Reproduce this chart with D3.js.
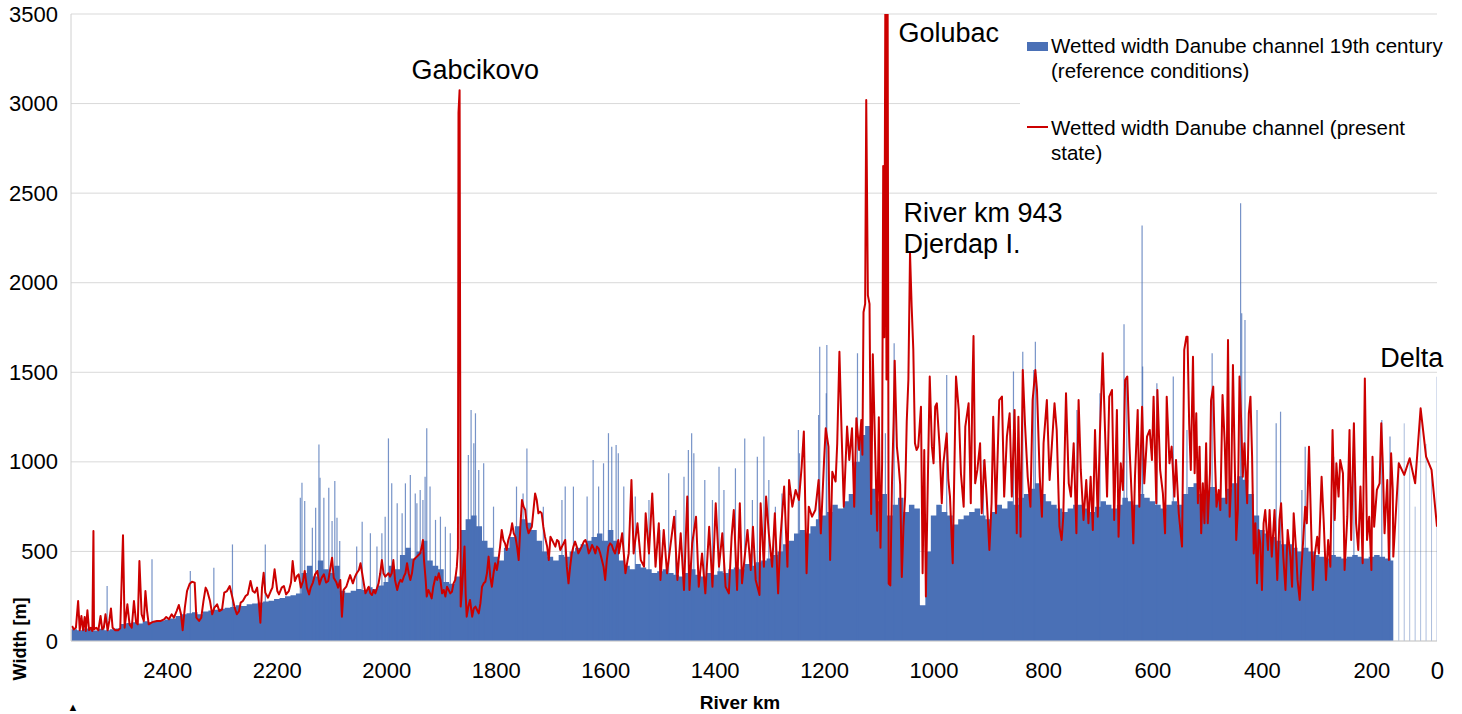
<!DOCTYPE html>
<html>
<head>
<meta charset="utf-8">
<script src="https://cdn.jsdelivr.net/npm/d3@7"></script>
<style>
  body { margin: 0; background: #fff; }
  text { font-family: "Liberation Sans", Arial, sans-serif; fill: #000; }
</style>
</head>
<body>
<div id="chart"></div>
<script>
// ---- data ----

// 19th century wetted width, 10 km bins from km 2570 down to km 160
var blueKm = d3.range(2570, 159, -10);
var blueWidth = [
  65,60,70,62,58,68,60,65,
  70,95,100,105,98,110,105,112,115,120,
  125,140,150,155,160,150,165,170,175,180,
  185,190,200,195,205,210,215,220,225,235,
  240,250,255,265,380,420,360,450,400,380,
  420,280,270,280,290,285,300,290,310,330,
  420,400,480,520,460,500,560,450,420,400,
  330,320,360,620,680,700,640,560,520,470,
  450,520,580,640,680,660,620,560,500,470,
  450,480,470,500,520,540,560,580,600,560,
  620,560,450,420,400,430,410,400,380,390,
  400,380,370,360,380,400,370,360,380,370,
  390,380,400,410,400,430,420,440,450,460,
  480,500,540,560,600,620,600,640,680,700,
  720,760,740,780,820,1000,1150,1200,850,780,
  820,700,760,800,720,760,740,200,500,700,
  760,720,700,650,680,700,720,740,700,680,
  720,760,740,780,760,800,820,850,880,820,
  780,760,740,720,740,760,760,740,720,750,
  780,760,740,760,800,780,760,820,800,780,
  760,740,760,780,760,820,860,880,820,840,
  860,820,800,850,880,920,900,820,700,620,
  600,580,560,540,540,520,500,520,500,480,
  470,460,480,470,460,470,480,470,460,470,
  480,470,460,450
];

// narrow peaks of the 19th century width
var spikeKm = [
  2510,2428,2358,2315,2281,2221,2157,2154,2149,2135,2129,2123,2121,2114,2105,2099,2094,2090,2085,
  2054,2044,2029,2017,2008,2002,1996,1990,1980,1971,1965,1956,1947,1944,1938,1933,1929,1926,1920,1910,1901,1892,1883,
  1850,1845,1840,1837,1831,1822,1804,1762,1750,1743,1713,1679,1673,1658,1633,1622,1612,1603,1594,1588,1580,1576,
  1566,1545,1520,1500,1484,1471,1456,1448,1442,1438,1418,1404,1392,1383,1362,1345,1331,1322,1310,1301,1289,1277,
  1247,1245,1210,1208,1196,1195,1139,1088,1072,1057,
  976,909,854,837,817,814,738,696,652,647,619,618,592,562,537,
  491,439,437,431,409,374,366,327,321,269,232,181,166
];
var spikeWidth = [
  307,456,391,409,539,539,800,884,781,632,744,1097,911,800,856,670,893,688,558,
  527,666,601,527,601,694,1131,880,769,713,880,927,824,769,843,787,917,1187,862,676,694,638,601,
  1038,1290,1104,1271,955,992,750,862,824,1075,750,787,862,862,806,1010,862,992,1160,1085,1094,1048,
  862,806,787,620,936,731,917,1066,1159,1048,899,787,973,843,964,1131,787,1029,1141,899,750,824,
  1178,1048,1262,1643,1383,1653,1606,1159,1662,694,
  1485,1011,1504,1615,1513,1671,1290,1383,1768,1476,2320,1532,1439,1476,1178,
  1606,2443,1829,1792,1290,1215,1280,843,1085,1029,1215,1234,1141
];

// delta: sparse sections
var deltaKm = [140,120,100,80,60,40,20,0];
var deltaBlue = [1000,1215,1000,750,1300,1100,960,1475];

// present state wetted width
var redKm = [
  2574,2571,2567,2563,2560,2557,2554,2551,2549,2546,
  2543,2540,2537,2535,2534,2530,2526,2522,2519,2516,
  2513,2509,2506,2503,2500,2495,2490,2486,2481,2478,
  2473,2469,2465,2461,2457,2454,2451,2447,2443,2440,
  2437,2434,2429,2425,2419,2412,2406,2402,2397,2392,
  2388,2383,2379,2375,2372,2368,2364,2359,2355,2350,
  2347,2342,2338,2334,2330,2327,2322,2318,2314,2309,
  2305,2300,2296,2291,2286,2281,2277,2273,2269,2266,
  2262,2257,2253,2248,2244,2240,2236,2233,2230,2227,
  2224,2221,2216,2211,2208,2204,2199,2196,2191,2187,
  2183,2178,2174,2171,2167,2163,2160,2156,2152,2149,
  2145,2141,2138,2134,2130,2126,2122,2118,2114,2110,
  2106,2102,2099,2096,2091,2088,
  2084,2081,2078,2073,2069,2066,2061,2057,2054,2050,
  2047,2044,2041,2038,2035,2032,2029,2026,2023,2020,
  2017,2014,2011,2008,2005,2002,1999,1996,1993,1990,
  1987,1984,1980,1977,1974,1971,1968,1965,1962,1959,
  1956,1953,1950,1947,1944,1941,1938,1935,1933,1931,
  1928,1926,1923,1920,1917,1914,1910,1907,1904,1901,
  1898,1895,1892,1889,1886,1883,1880,1877,1874,1871,
  1869,1868,1866,1864,1862,1857,1855,1853,1850,1847,
  1843,1840,1837,1834,1831,1828,1825,1822,1819,1816,
  1813,1810,1807,1804,1801,1798,1795,1792,1789,1786,
  1783,1780,1777,1773,1770,1767,1764,1761,1758,1755,
  1752,1749,1746,1743,1740,1737,1734,1731,1728,1725,
  1722,1719,1716,1713,1710,1706,1703,1700,1697,1694,
  1691,1688,1685,1682,1679,1676,1673,1670,1667,1664,
  1661,1658,1655,1652,1649,1646,1643,1639,1636,1633,
  1630,1627,1624,1621,1618,1615,1612,1609,1606,1603,
  1600,1597,1594,1591,1588,1585,1582,1579,1576,
  1575,1569,1563,1557,1552,1548,1541,1535,1529,1526,
  1520,1514,1508,1502,1499,1493,1487,1481,1474,1468,
  1462,1456,1450,1446,1441,1434,1429,1423,1417,1410,
  1404,1398,1392,1386,1380,1374,1369,1365,1359,1354,
  1350,1340,1334,1330,1325,1318,1316,1310,1306,1301,
  1295,1290,1284,1280,1273,1267,1264,1258,1252,1246,
  1241,1237,1232,1228,1222,1216,1210,1206,1200,1197,
  1192,1189,1185,1179,1176,1172,1168,1164,1158,1154,
  1149,1145,1141,1136,1132,
  1130,1128,1125,1123,1120,1117,1114,1111,1108,1103,
  1100,1097,1094,1092,1090,1088,1086,1084,1082,1079,
  1076,1073,1071,1067,1064,1061,1058,1055,1052,1049,
  1046,
  1043,1040,1037,1034,1031,1028,1023,1020,1017,1014,
  1011,1007,1003,1000,997,994,989,985,982,976,
  973,970,965,959,954,950,945,942,936,932,
  929,927,924,920,915,912,907,903,898,894,
  891,886,880,875,871,866,861,857,852,848,
  845,841,837,833,828,823,819,814,811,806,
  802,799,793,788,784,779,775,770,766,763,
  758,753,749,744,739,735,731,726,721,717,
  713,709,705,700,696,691,686,683,679,674,
  670,665,662,658,654,650,646,642,638,635,
  632,627,624,619,615,610,605,601,598,593,
  591,586,581,577,574,569,565,560,557,552,
  546,542,538,
  536,533,530,526,523,520,517,514,511,508,
  505,502,499,495,493,489,486,483,479,476,
  472,468,465,462,459,456,453,450,447,444,
  441,438,435,432,427,424,421,418,415,412,
  409,406,403,400,397,394,389,386,382,377,
  372,368,365,361,357,353,348,345,342,338,
  335,331,329,325,321,318,314,310,307,304,
  299,296,291,287,283,279,275,271,267,264,
  260,257,252,249,244,240,237,232,228,224,
  220,216,212,208,204,200,198,195,190,185,
  182,179,176,171,168,164,161,160,
  140,120,100,80,60,40,20,0
];
var redWidth = [
  84,65,74,223,60,140,60,134,56,171,
  60,74,56,614,65,74,60,140,65,74,
  149,60,112,182,74,60,60,71,590,74,
  205,93,74,223,102,93,446,149,112,279,
  167,93,102,108,112,112,121,134,121,149,
  130,167,201,149,60,186,279,320,331,326,
  130,112,130,223,298,279,223,149,186,205,
  167,177,270,279,307,242,186,149,167,214,
  223,251,260,335,279,270,298,223,102,298,
  381,270,242,279,298,400,279,260,298,307,
  260,279,326,446,335,363,372,298,335,391,
  298,260,298,326,372,391,316,353,372,326,
  335,409,465,353,326,298,
  341,136,285,303,341,368,322,359,378,396,
  434,378,322,266,285,303,266,257,285,266,
  294,322,378,452,378,359,368,378,359,378,
  452,341,285,322,341,331,359,378,434,378,
  341,378,452,462,471,480,489,527,564,452,
  341,248,285,266,238,303,359,341,378,341,
  266,285,248,303,285,266,275,322,341,415,
  520,2950,3075,192,266,527,266,136,192,229,
  136,182,192,173,154,210,303,322,331,378,
  471,359,303,378,434,396,452,527,620,564,
  545,508,564,601,657,601,582,527,452,638,
  787,750,731,638,601,620,638,731,824,787,
  713,722,713,638,582,527,452,582,564,545,
  527,564,555,508,527,545,564,415,322,415,
  489,527,555,527,489,508,527,555,564,536,
  489,508,536,517,489,527,517,489,452,415,
  341,452,527,545,536,508,489,527,564,
  489,601,378,489,899,489,657,452,415,713,
  489,824,415,657,341,620,378,527,694,341,
  601,285,806,285,545,694,303,489,266,638,
  303,769,415,601,303,266,582,731,285,769,
  322,620,396,638,341,257,769,415,806,601,
  415,713,266,564,862,415,899,750,843,787,
  973,1169,378,750,694,731,899,601,1011,1187,
  1085,452,945,890,1104,1615,1159,750,1197,1011,
  1187,750,1243,1066,1234,
  1040,1835,1882,3020,1929,1882,709,1600,1225,615,
  1249,521,990,2652,1695,3700,1460,3700,321,310,
  873,1225,1565,1084,990,873,357,638,803,1225,
  1460,
  2164,1867,1625,1104,1066,1085,1308,378,1066,248,
  806,1476,1085,992,1308,1327,1085,769,992,1159,
  899,806,434,1476,1290,936,750,1197,1327,769,
  1420,1703,880,955,1104,713,1011,806,508,769,
  1252,713,1345,1364,806,1141,1271,806,1290,601,
  1252,582,1513,1215,917,750,1345,1513,1401,917,
  694,1104,1345,899,1085,1327,1178,638,564,694,
  1383,880,806,1104,601,1345,955,676,899,657,
  917,620,1178,694,1159,1606,1104,806,1364,1401,
  676,1290,582,992,843,1457,1476,1085,806,545,
  917,1290,750,1308,880,1141,1178,1011,1364,769,
  1401,955,824,601,1364,992,1085,806,1011,713,
  527,1625,1699,
  1699,1215,955,1587,936,1271,769,1085,601,880,
  657,1104,657,936,1345,1420,1029,750,843,731,
  1373,1104,769,1680,694,899,1541,1048,564,731,
  1476,1234,917,1104,769,1271,1364,1029,489,657,
  322,620,545,285,657,731,508,731,471,731,
  341,676,769,471,285,620,471,303,713,527,
  341,229,359,545,750,657,1085,620,285,471,
  582,489,917,657,341,564,415,1178,676,992,
  806,1011,936,396,694,1178,564,1215,657,508,
  862,434,1466,564,694,396,1029,638,843,880,
  1215,973,601,899,452,1048,843,471,
  992,927,1020,880,1299,1029,955,638
];

var yTicks = [0,500,1000,1500,2000,2500,3000,3500];
var xTickKm = [2400,2200,2000,1800,1600,1400,1200,1000,800,600,400,200,0];

var seriesNames = ["Wetted width Danube channel 19th century", "(reference conditions)",
                   "Wetted width Danube channel (present", "state)"];
// annotation anchors in data units (km along the river, width in m)
var notes = [
  {km: 1954, w: 3137, lines: ["Gabcikovo"]},
  {km: 1064, w: 3344, lines: ["Golubac"]},
  {km: 1055, w: 2339, lines: ["River km 943", "Djerdap I."]},
  {km: 184,  w: 1529, lines: ["Delta"]}
];

if (redKm.length !== redWidth.length) console.warn("red", redKm.length, redWidth.length);
if (blueKm.length !== blueWidth.length) console.warn("blue", blueKm.length, blueWidth.length);
if (spikeKm.length !== spikeWidth.length) console.warn("spike", spikeKm.length, spikeWidth.length);

// ---- layout ----
var svgWidth = 1462;
var svgHeight = 714;
var plot = {left: 71, right: 1437, top: 14, bottom: 641};
var blueColor = "#4a70b6";
var redColor = "#cc0000";

var svg = d3.select("#chart")
  .append("svg")
  .attr("width", svgWidth)
  .attr("height", svgHeight);

// km axis: the delta part is squeezed into a few sparse categories
var xScale = d3.scaleLinear()
  .domain([2576, 160, 0])
  .range([plot.left, 1393.3, plot.right]);

var yScale = d3.scaleLinear()
  .domain([0, 3500])
  .range([plot.bottom, plot.top]);

svg.append("defs").append("clipPath").attr("id", "plotClip")
  .append("rect")
  .attr("x", plot.left).attr("y", plot.top)
  .attr("width", plot.right - plot.left).attr("height", plot.bottom - plot.top);

// gridlines
svg.append("g")
  .selectAll("line")
  .data(yTicks)
  .enter()
  .append("line")
  .attr("x1", plot.left)
  .attr("x2", plot.right)
  .attr("y1", d => yScale(d))
  .attr("y2", d => yScale(d))
  .attr("stroke", "#d9d9d9")
  .attr("stroke-width", 1);

// legend background hides the gridline behind it
svg.append("rect")
  .attr("x", 1020).attr("y", 24)
  .attr("width", 442).attr("height", 148)
  .attr("fill", "#fff");

var dataGroup = svg.append("g").attr("clip-path", "url(#plotClip)");

// 19th century width as stepped fill
var blueSteps = blueKm.map((k, i) => ({km: Math.min(k + 5, 2576), w: blueWidth[i]}));
blueSteps.push({km: 160, w: blueWidth[blueWidth.length - 1]});

var blueArea = d3.area()
  .curve(d3.curveStepAfter)
  .x(d => xScale(d.km))
  .y0(yScale(0))
  .y1(d => yScale(d.w));

dataGroup.append("path")
  .datum(blueSteps)
  .attr("d", blueArea)
  .attr("fill", blueColor);

// thin peaks
dataGroup.append("g")
  .selectAll("line")
  .data(spikeKm)
  .enter()
  .append("line")
  .attr("x1", d => xScale(d))
  .attr("x2", d => xScale(d))
  .attr("y1", yScale(0))
  .attr("y2", (d, i) => yScale(spikeWidth[i]))
  .attr("stroke", blueColor)
  .attr("stroke-width", 1.2)
  .attr("opacity", 0.75);

// delta sections: hairlines only
dataGroup.append("g")
  .selectAll("line")
  .data(deltaKm)
  .enter()
  .append("line")
  .attr("x1", d => xScale(d))
  .attr("x2", d => xScale(d))
  .attr("y1", yScale(0))
  .attr("y2", (d, i) => yScale(deltaBlue[i]))
  .attr("stroke", blueColor)
  .attr("stroke-width", 1)
  .attr("opacity", 0.45);

// present state line
var redLine = d3.line()
  .x((d, i) => xScale(redKm[i]))
  .y(d => yScale(d));

dataGroup.append("path")
  .datum(redWidth)
  .attr("d", redLine)
  .attr("fill", "none")
  .attr("stroke", redColor)
  .attr("stroke-width", 2)
  .attr("stroke-linejoin", "round");

// axes lines
svg.append("line")
  .attr("x1", plot.left).attr("x2", plot.left)
  .attr("y1", plot.top).attr("y2", plot.bottom)
  .attr("stroke", "#d0d0d0");
svg.append("line")
  .attr("x1", plot.left).attr("x2", plot.right)
  .attr("y1", plot.bottom).attr("y2", plot.bottom)
  .attr("stroke", "#d0d0d0");

// tick labels
var leftAxis = d3.axisLeft(yScale).tickValues(yTicks).tickFormat(d3.format("d"))
  .tickSize(0).tickPadding(13);
var gy = svg.append("g")
  .attr("transform", `translate(${plot.left},0)`)
  .call(leftAxis);
gy.select(".domain").remove();
gy.selectAll("text")
  .style("font-family", "Liberation Sans, Arial, sans-serif")
  .style("font-size", "22px")
  .attr("fill", "#000");

var bottomAxis = d3.axisBottom(xScale).tickValues(xTickKm).tickFormat(d3.format("d"))
  .tickSize(0).tickPadding(21);
var gx = svg.append("g")
  .attr("transform", `translate(0,${plot.bottom})`)
  .call(bottomAxis);
gx.select(".domain").remove();
gx.selectAll("text")
  .style("font-family", "Liberation Sans, Arial, sans-serif")
  .style("font-size", d => d === 0 ? "24px" : "22px")
  .attr("fill", "#000");

// axis titles
svg.append("text")
  .attr("transform", "translate(26,639) rotate(-90)")
  .attr("text-anchor", "middle")
  .style("font-size", "18px")
  .style("font-weight", "bold")
  .text("Width [m]");

svg.append("text")
  .attr("x", 740).attr("y", 709)
  .attr("text-anchor", "middle")
  .style("font-size", "19px")
  .style("font-weight", "bold")
  .text("River km");

svg.append("text")
  .attr("x", 73).attr("y", 711)
  .attr("text-anchor", "middle")
  .style("font-size", "11px")
  .text("\u25B2");

// annotations
notes.forEach(n => {
  n.lines.forEach((t, j) => {
    svg.append("text")
      .attr("x", xScale(n.km))
      .attr("y", yScale(n.w) + j * 31)
      .style("font-size", "27px")
      .text(t);
  });
});

// legend
svg.append("rect")
  .attr("x", 1027).attr("y", 42)
  .attr("width", 21).attr("height", 9)
  .attr("fill", blueColor);
svg.append("line")
  .attr("x1", 1027).attr("x2", 1048)
  .attr("y1", 127).attr("y2", 127)
  .attr("stroke", redColor)
  .attr("stroke-width", 2);

var legendY = [53, 78, 135, 160];
svg.append("g")
  .selectAll("text")
  .data(seriesNames)
  .enter()
  .append("text")
  .attr("x", 1051)
  .attr("y", (d, i) => legendY[i])
  .style("font-size", "20.5px")
  .text(d => d);
</script>
</body>
</html>
